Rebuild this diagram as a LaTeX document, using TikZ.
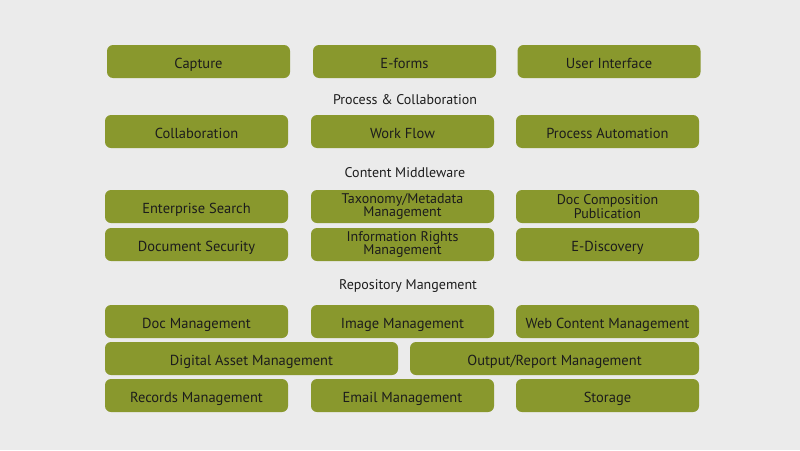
\documentclass[tikz,border=0pt]{standalone}
\usepackage{fontspec}
\setmainfont{PT Sans}
\definecolor{olivebox}{RGB}{137,152,45}
\definecolor{backgr}{RGB}{235,235,235}
\definecolor{boxtext}{RGB}{28,28,28}
\tikzset{
  block/.style={fill=olivebox, rounded corners=6pt, minimum width=183pt, minimum height=33pt,
    inner sep=0pt, text=boxtext, font=\fontsize{14.5}{14.5}\selectfont, align=center,
    text height=14pt, text depth=0pt},
  twoline/.style={font=\fontsize{14}{12.5}\selectfont, text height=, text depth=},
  layer/.style={text=boxtext, font=\fontsize{14}{14}\selectfont}
}
\begin{document}
\begin{tikzpicture}[x=1pt,y=-1pt]
        \fill[backgr] (0,0) rectangle (800,450); % background
        \useasboundingbox (0,0) rectangle (800,450);
        % top row
        \node[block] (capture) at (198.5,61.5) {Capture};
        \node[block] (eforms) at (404.5,61.5) {E-forms};
        \node[block] (userif) at (609,61.5) {User Interface};
        \node[layer] (process) at (405,100) {Process \& Collaboration}; % layer title
        \node[block] (collab) at (196.5,131.5) {Collaboration};
        \node[block] (workflow) at (402.5,131.5) {Work Flow};
        \node[block] (automation) at (607.5,131.5) {Process Automation};
        \node[layer] (middleware) at (405,173) {Content Middleware}; % layer title
        \node[block] (search) at (196.5,206.5) {Enterprise Search};
        \node[block,twoline] (taxonomy) at (402.5,206.5) {Taxonomy/Metadata\\Management};
        \node[block,twoline] (doccomp) at (607.5,206.5) {Doc Composition\\Publication};
        \node[block] (security) at (196.5,244.5) {Document Security};
        \node[block,twoline] (rights) at (402.5,244.5) {Information Rights\\Management};
        \node[block] (discovery) at (607.5,244.5) {E-Discovery};
        \node[layer] (repository) at (408,286) {Repository Mangement}; % layer title
        \node[block] (docman) at (196.5,321.5) {Doc Management};
        \node[block] (imageman) at (402.5,321.5) {Image Management};
        \node[block] (webcontent) at (607.5,321.5) {Web Content Management};
        \node[block,minimum width=293pt] (digital) at (251.5,358.5) {Digital Asset Management};
        \node[block,minimum width=289pt] (output) at (554.5,358.5) {Output/Report Management};
        \node[block] (records) at (196.5,395.5) {Records Management};
        \node[block] (email) at (402.5,395.5) {Email Management};
        \node[block] (storage) at (607.5,395.5) {Storage};
    \end{tikzpicture}
\end{document}
